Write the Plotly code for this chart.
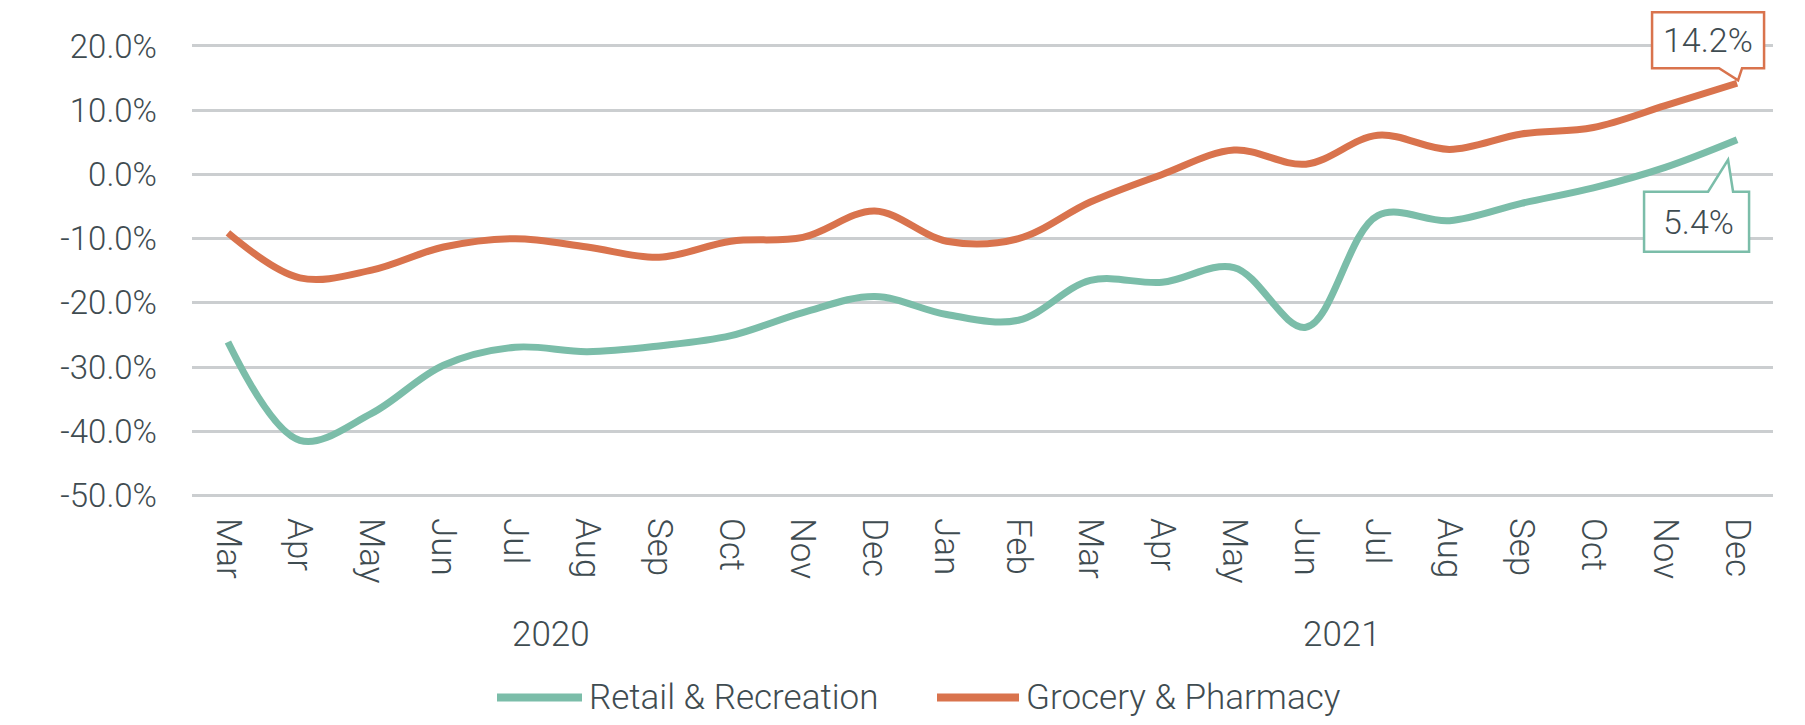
import plotly.graph_objects as go

# ---------------- data ----------------
months = ["Mar", "Apr", "May", "Jun", "Jul", "Aug", "Sep", "Oct", "Nov", "Dec",
          "Jan", "Feb", "Mar", "Apr", "May", "Jun", "Jul", "Aug", "Sep", "Oct", "Nov", "Dec"]
years = ["2020"] * 10 + ["2021"] * 12
retail = [-26.1, -41.4, -37.2, -29.7, -26.9, -27.6, -26.7, -25.1, -21.5, -19.0,
          -21.8, -22.7, -16.5, -16.8, -14.5, -23.8, -6.4, -7.2, -4.5, -2.1, 1.1, 5.4]
grocery = [-9.1, -16.1, -14.9, -11.3, -10.0, -11.3, -12.9, -10.4, -9.8, -5.7,
           -10.4, -10.0, -4.3, 0.0, 3.8, 1.6, 6.1, 3.9, 6.3, 7.3, 10.7, 14.2]
y_ticks = [20, 10, 0, -10, -20, -30, -40, -50]
y_tick_labels = ["20.0%", "10.0%", "0.0%", "-10.0%", "-20.0%", "-30.0%", "-40.0%", "-50.0%"]
series_names = ["Retail & Recreation", "Grocery & Pharmacy"]

# ---------------- style ----------------
TEAL = "#7BBDA9"
ORANGE = "#D9734D"
TEXT = "#3F4C51"
GRID = "#CBCED0"
FONT = "Roboto"

PAGE_W, PAGE_H = 1805, 725
OFF = 8                      # default body margin of the html page
FW, FH = PAGE_W - OFF, PAGE_H - OFF

# plot area in page pixels
PL, PR = 192, 1773
Y_TOP_TICK, Y_BOT_TICK = 46, 496          # pixel rows of the 20% and -50% grid lines
UNIT = (Y_BOT_TICK - Y_TOP_TICK) / (y_ticks[0] - y_ticks[-1])
PT = OFF
Y_MAX = y_ticks[0] + (Y_TOP_TICK - PT) / UNIT
Y_MIN = y_ticks[-1] - 1.0
PB = Y_BOT_TICK + (y_ticks[-1] - Y_MIN) * UNIT


def px_x(px):
    return (px - PL) / (PR - PL)


def px_y(py):
    return (PB - py) / (PB - PT)


idx = list(range(len(months)))

fig = go.Figure()
fig.add_trace(go.Scatter(x=idx, y=retail, mode="lines", name=series_names[0],
                         line=dict(color=TEAL, width=7, shape="spline", smoothing=1.0),
                         showlegend=False))
fig.add_trace(go.Scatter(x=idx, y=grocery, mode="lines", name=series_names[1],
                         line=dict(color=ORANGE, width=7, shape="spline", smoothing=1.0),
                         showlegend=False))

shapes = []
annotations = []

# year group labels
for yr in ["2020", "2021"]:
    pos = [i for i, y in enumerate(years) if y == yr]
    annotations.append(dict(x=sum(pos) / len(pos), y=px_y(635), xref="x", yref="paper",
                            text=yr, showarrow=False, xanchor="center", yanchor="middle",
                            font=dict(family=FONT, size=35, color=TEXT, weight=300)))

# callouts on the last points
last = idx[-1]
shapes.append(dict(type="path", xref="x", yref="y", xsizemode="pixel", ysizemode="pixel",
                   xanchor=last, yanchor=grocery[-1],
                   path="M -85,15 L -18,15 L 1,3 L 5,15 L 27,15 L 27,71 L -85,71 Z",
                   fillcolor="white", line=dict(color=ORANGE, width=2.5), layer="above"))
annotations.append(dict(x=last, y=grocery[-1], xref="x", yref="y", text=f"{grocery[-1]:.1f}%",
                        showarrow=False, xshift=-29, yshift=43, xanchor="center", yanchor="middle",
                        font=dict(family=FONT, size=34, color=TEXT, weight=300)))
shapes.append(dict(type="path", xref="x", yref="y", xsizemode="pixel", ysizemode="pixel",
                   xanchor=last, yanchor=retail[-1],
                   path="M -93,-52 L -29,-52 L -9,-20 L -4,-52 L 12,-52 L 12,-112 L -93,-112 Z",
                   fillcolor="white", line=dict(color=TEAL, width=2.5), layer="above"))
annotations.append(dict(x=last, y=retail[-1], xref="x", yref="y", text=f"{retail[-1]:.1f}%",
                        showarrow=False, xshift=-39, yshift=-82, xanchor="center", yanchor="middle",
                        font=dict(family=FONT, size=34, color=TEXT, weight=300)))

# legend drawn below the chart
legend_items = [(series_names[0], TEAL, 497, 582, 588), (series_names[1], ORANGE, 937, 1019, 1025)]
for name, col, x0, x1, xt in legend_items:
    shapes.append(dict(type="line", xref="paper", yref="paper", x0=px_x(x0), x1=px_x(x1),
                       y0=px_y(698), y1=px_y(698), line=dict(color=col, width=8)))
    annotations.append(dict(x=px_x(xt), y=px_y(698), xref="paper", yref="paper", text=name,
                            showarrow=False, xanchor="left", yanchor="middle", borderpad=0,
                            font=dict(family=FONT, size=35, color=TEXT, weight=300)))

fig.update_layout(
    width=FW, height=FH,
    margin=dict(l=PL - OFF, r=FW - (PR - OFF), t=PT - OFF, b=FH - (PB - OFF), pad=0,
                autoexpand=False),
    paper_bgcolor="white", plot_bgcolor="white",
    font=dict(family=FONT, color=TEXT, size=33, weight=300),
    shapes=shapes, annotations=annotations,
    showlegend=False,
)
fig.update_xaxes(range=[-0.5, len(months) - 0.5], tickvals=idx, ticktext=months, tickangle=90,
                 showgrid=False, zeroline=False, showline=False, ticks="",
                 ticklabelstandoff=15,
                 tickfont=dict(family=FONT, size=35, color=TEXT, weight=300))
fig.update_yaxes(range=[Y_MIN, Y_MAX], tickvals=y_ticks, ticktext=y_tick_labels,
                 showgrid=True, gridcolor=GRID, gridwidth=3, zeroline=False, showline=False,
                 ticks="", ticklabelstandoff=34,
                 tickfont=dict(family=FONT, size=33, color=TEXT, weight=300))

fig.write_html("out.html")
